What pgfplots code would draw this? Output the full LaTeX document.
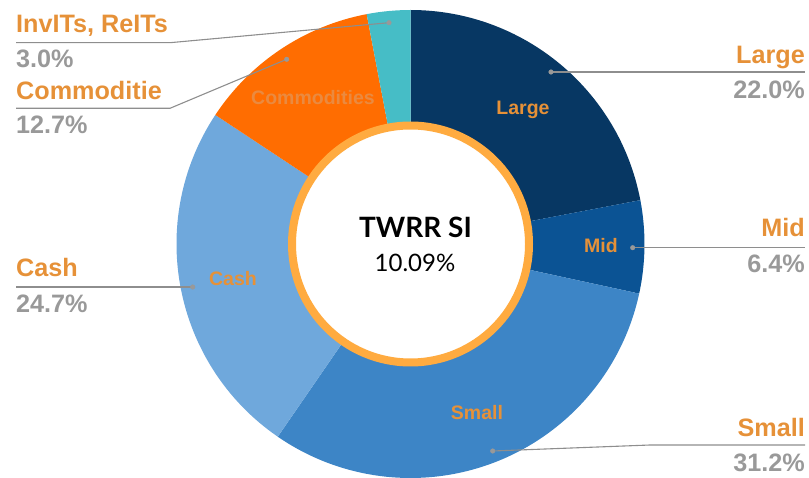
\documentclass[border=0pt]{standalone}
\usepackage{pgfplots}
\pgfplotsset{compat=1.18}
\usepackage{fontspec}
\setmainfont{Liberation Sans}
\newfontfamily\lato{Lato}
\definecolor{cLarge}{HTML}{073763}
\definecolor{cMid}{HTML}{0B5394}
\definecolor{cSmall}{HTML}{3D85C6}
\definecolor{cCash}{HTML}{6FA8DC}
\definecolor{cComm}{HTML}{FF6D01}
\definecolor{cInv}{HTML}{46BDC6}
\definecolor{ringor}{HTML}{FFAB40}
\definecolor{labor}{HTML}{E69138}
\definecolor{commlab}{HTML}{EA8A40}
\definecolor{pgray}{HTML}{999999}
\definecolor{lgray}{HTML}{8E8E8E}
% wedge: #1 cumulative percent before, #2 value (percent), #3 colour
\newcommand\donutwedge[3]{%
  \fill[#3] (axis cs:0,0) -- ++({90-3.6*(#1)}:234pt)
    arc[start angle={90-3.6*(#1)}, end angle={90-3.6*((#1)+(#2))}, radius=234pt] -- cycle;}
\newcommand\outfont{\fontsize{25.2}{29}\selectfont\bfseries}
\newcommand\infont{\fontsize{19.5}{23}\selectfont\bfseries}
\begin{document}
\begin{tikzpicture}
\begin{axis}[
  hide axis, x=1pt, y=1pt,
  xmin=-410.5, xmax=398.5, ymin=-233, ymax=244,
  clip=false]
% slices (values in percent): Large 22.0, Mid 6.4, Small 31.2, Cash 24.7, Commodities 12.7, InvITs/REITs 3.0
\donutwedge{0}{22.0}{cLarge}
\donutwedge{22.0}{6.4}{cMid}
\donutwedge{28.4}{31.2}{cSmall}
\donutwedge{59.6}{24.7}{cCash}
\donutwedge{84.3}{12.7}{cComm}
\donutwedge{97.0}{3.0}{cInv}
\fill[white] (axis cs:0,0) circle[radius=118.5pt];
\draw[ringor, line width=8pt] (axis cs:0,0) circle[radius=118.5pt];
% leader lines
\addplot[lgray, line width=1.1pt, mark=none] coordinates {(-394.5,201.3) (-240.5,201.3) (-21.5,221.3)};
\addplot[lgray, line width=1.1pt, mark=none] coordinates {(-394.5,135.7) (-240.5,135.7) (-123.8,184.7)};
\addplot[lgray, line width=1.1pt, mark=none] coordinates {(140.5,172) (394.5,172)};
\addplot[lgray, line width=1.1pt, mark=none] coordinates {(222.2,-3.7) (394.5,-3.7)};
\addplot[lgray, line width=1.1pt, mark=none] coordinates {(-394.5,-43) (-217.8,-43)};
\addplot[lgray, line width=1.1pt, mark=none] coordinates {(394.5,-201) (239.5,-201) (82.2,-207)};
\addplot[only marks, mark=*, mark size=2.3pt, color=pgray] coordinates {(-21.5,221.3) (-123.8,184.7) (140.5,172) (222.2,-3.7) (-217.8,-43) (82.2,-207)};
% inner labels
\node[labor, inner sep=0pt] at (axis cs:112.5,134) {\infont Large};
\node[labor, inner sep=0pt] at (axis cs:190.5,-2) {\infont Mid};
\node[labor, inner sep=0pt] at (axis cs:66.5,-169) {\infont Small};
\node[labor, inner sep=0pt] at (axis cs:-177.5,-35) {\infont Cash};
\node[commlab, inner sep=0pt] at (axis cs:-97.5,146) {\infont Commodities};
% outer labels
\node[labor, anchor=base west, inner sep=0pt] at (axis cs:-394.5,211) {\outfont InvITs, ReITs};
\node[pgray, anchor=base west, inner sep=0pt] at (axis cs:-394.5,176) {\outfont 3.0\%};
\node[labor, anchor=base west, inner sep=0pt] at (axis cs:-394.5,144) {\outfont Commoditie};
\node[pgray, anchor=base west, inner sep=0pt] at (axis cs:-394.5,110) {\outfont 12.7\%};
\node[labor, anchor=base west, inner sep=0pt] at (axis cs:-394.5,-32.7) {\outfont Cash};
\node[pgray, anchor=base west, inner sep=0pt] at (axis cs:-394.5,-68.7) {\outfont 24.7\%};
\node[labor, anchor=base east, inner sep=0pt] at (axis cs:394.5,180.7) {\outfont Large};
\node[pgray, anchor=base east, inner sep=0pt] at (axis cs:394.5,145) {\outfont 22.0\%};
\node[labor, anchor=base east, inner sep=0pt] at (axis cs:394.5,7.3) {\outfont Mid};
\node[pgray, anchor=base east, inner sep=0pt] at (axis cs:394.5,-28.7) {\outfont 6.4\%};
\node[labor, anchor=base east, inner sep=0pt] at (axis cs:394.5,-192) {\outfont Small};
\node[pgray, anchor=base east, inner sep=0pt] at (axis cs:394.5,-227.7) {\outfont 31.2\%};
% centre
\node[black, anchor=base, inner sep=0pt] at (axis cs:5,6) {\lato\fontsize{28}{32}\selectfont\bfseries TWRR SI};
\node[black, anchor=base, inner sep=0pt] at (axis cs:4.5,-28) {\lato\fontsize{24}{28}\selectfont 10.09\%};
\end{axis}
\pgfresetboundingbox
\useasboundingbox (current axis.south west) rectangle (current axis.north east);
\end{tikzpicture}
\end{document}
